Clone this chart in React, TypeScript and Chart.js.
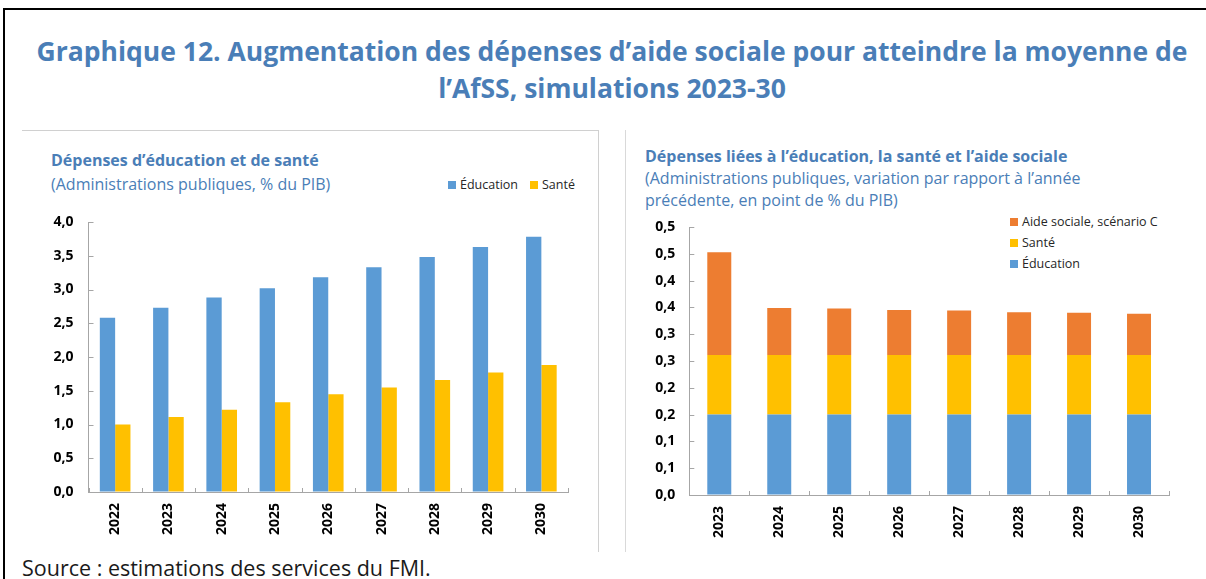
import React, { useEffect, useRef } from 'react';
import { Chart, registerables } from 'chart.js';

Chart.register(...registerables);

// ---------- data ----------
const levelYears = ['2022', '2023', '2024', '2025', '2026', '2027', '2028', '2029', '2030'];
const educationLevel = [2.58, 2.73, 2.88, 3.02, 3.18, 3.33, 3.48, 3.63, 3.78];
const santeLevel = [1.0, 1.11, 1.22, 1.33, 1.45, 1.55, 1.66, 1.77, 1.88];
const levelYLabels = ['0,0', '0,5', '1,0', '1,5', '2,0', '2,5', '3,0', '3,5', '4,0'];

const changeYears = ['2023', '2024', '2025', '2026', '2027', '2028', '2029', '2030'];
const educationChange = [0.15, 0.15, 0.15, 0.15, 0.15, 0.15, 0.15, 0.15];
const santeChange = [0.111, 0.111, 0.111, 0.111, 0.111, 0.111, 0.111, 0.111];
const aideChange = [0.192, 0.088, 0.087, 0.084, 0.083, 0.08, 0.079, 0.077];
const changeYLabels = ['0,0', '0,1', '0,1', '0,2', '0,2', '0,3', '0,3', '0,4', '0,4', '0,5', '0,5'];

const seriesNames = { education: 'Éducation', sante: 'Santé', aide: 'Aide sociale, scénario C' };

// ---------- styles ----------
const FONT = '"Open Sans", "Noto Sans", sans-serif';
const TITLE_BLUE = '#4A7EB7';
const EDU_COLOR = '#5B9BD5';
const SANTE_COLOR = '#FFC000';
const AIDE_COLOR = '#ED7D31';
const AXIS_COLOR = '#A6A6A6';

const innerTicks = {
  id: 'innerTicks',
  afterDraw(chart: any) {
    const { ctx, chartArea, scales } = chart;
    const { left, right, bottom } = chartArea;
    const x = scales.x;
    const y = scales.y;
    ctx.save();
    ctx.strokeStyle = AXIS_COLOR;
    ctx.lineWidth = 1;
    ctx.beginPath();
    y.ticks.forEach((_: any, i: number) => {
      const py = Math.round(y.getPixelForTick(i)) + 0.5;
      ctx.moveTo(left, py);
      ctx.lineTo(left + 5, py);
    });
    const n = x.ticks.length;
    for (let i = 0; i <= n; i++) {
      const px = Math.round(left + ((right - left) * i) / n) + 0.5;
      ctx.moveTo(px, bottom);
      ctx.lineTo(px, bottom - 4);
    }
    ctx.stroke();
    ctx.restore();
  },
};

function baseScales(xHeight: number, yWidth: number) {
  const tickFont = { family: FONT, size: 14, weight: 'bold' as const };
  return {
    x: {
      grid: { display: true, drawOnChartArea: false, drawTicks: false },
      border: { display: true, color: AXIS_COLOR, width: 1 },
      ticks: {
        font: tickFont,
        color: '#000',
        minRotation: 90,
        maxRotation: 90,
        autoSkip: false,
        padding: 11,
      },
      afterFit(s: any) {
        s.height = xHeight;
      },
    },
    y: {
      grid: { display: true, drawOnChartArea: false, drawTicks: false },
      border: { display: true, color: AXIS_COLOR, width: 1 },
      ticks: { font: tickFont, color: '#000', padding: 15, autoSkip: false },
      afterFit(s: any) {
        s.width = yWidth;
      },
    },
  };
}

function LevelChart() {
  const ref = useRef<HTMLCanvasElement>(null);
  useEffect(() => {
    const scales: any = baseScales(58, 66.5);
    scales.y.min = 0;
    scales.y.max = 4;
    scales.y.ticks.stepSize = 0.5;
    scales.y.ticks.callback = (_v: any, i: number) => levelYLabels[i];
    const chart = new Chart(ref.current!, {
      type: 'bar',
      data: {
        labels: levelYears,
        datasets: [
          { label: seriesNames.education, data: educationLevel, backgroundColor: EDU_COLOR, borderWidth: 0, categoryPercentage: 0.575, barPercentage: 1.0 },
          { label: seriesNames.sante, data: santeLevel, backgroundColor: SANTE_COLOR, borderWidth: 0, categoryPercentage: 0.575, barPercentage: 1.0 },
        ],
      },
      options: {
        responsive: false,
        animation: false,
        layout: { padding: { top: 26, right: 30, left: 0, bottom: 0 } },
        plugins: { legend: { display: false }, tooltip: { enabled: false } },
        scales,
      },
      plugins: [innerTicks],
    });
    return () => chart.destroy();
  }, []);
  return <canvas ref={ref} width={576} height={354} style={{ position: 'absolute', left: 22, top: 196, width: 576, height: 354 }} />;
}

function ChangeChart() {
  const ref = useRef<HTMLCanvasElement>(null);
  useEffect(() => {
    const scales: any = baseScales(55, 62.3);
    scales.x.stacked = true;
    scales.y.stacked = true;
    scales.y.min = 0;
    scales.y.max = 0.5;
    scales.y.ticks.stepSize = 0.05;
    scales.y.ticks.padding = 14;
    scales.y.ticks.callback = (_v: any, i: number) => changeYLabels[i];
    const common = { borderWidth: 0, categoryPercentage: 0.4, barPercentage: 1.0 };
    const chart = new Chart(ref.current!, {
      type: 'bar',
      data: {
        labels: changeYears,
        datasets: [
          { label: seriesNames.education, data: educationChange, backgroundColor: EDU_COLOR, ...common },
          { label: seriesNames.sante, data: santeChange, backgroundColor: SANTE_COLOR, ...common },
          { label: seriesNames.aide, data: aideChange, backgroundColor: AIDE_COLOR, ...common },
        ],
      },
      options: {
        responsive: false,
        animation: false,
        layout: { padding: { top: 31, right: 28, left: 0, bottom: 0 } },
        plugins: { legend: { display: false }, tooltip: { enabled: false } },
        scales,
      },
      plugins: [innerTicks],
    });
    return () => chart.destroy();
  }, []);
  return <canvas ref={ref} width={570} height={354} style={{ position: 'absolute', left: 627, top: 196, width: 570, height: 354 }} />;
}

function LegendItem({ color, label, style }: { color: string; label: string; style: React.CSSProperties }) {
  return (
    <div style={{ position: 'absolute', display: 'flex', alignItems: 'center', fontFamily: FONT, fontSize: 12.5, color: '#262626', whiteSpace: 'nowrap', lineHeight: '16px', ...style }}>
      <span style={{ display: 'inline-block', width: 8, height: 8, background: color, marginRight: 4 }} />
      {label}
    </div>
  );
}

const abs = (s: React.CSSProperties): React.CSSProperties => ({ position: 'absolute', whiteSpace: 'nowrap', ...s });

export default function App() {
  return (
    <div style={{ position: 'fixed', left: 0, top: 0, width: 1206, height: 579, overflow: 'hidden', background: '#fff' }}>
      {/* outer frame */}
      <div style={abs({ left: 3, top: 8, width: 1203, height: 2, background: '#000' })} />
      <div style={abs({ left: 3, top: 8, width: 2, height: 571, background: '#000' })} />

      {/* main title */}
      <div
        style={abs({
          left: 18,
          top: 33,
          width: 1188,
          textAlign: 'center',
          fontFamily: FONT,
          fontWeight: 700,
          fontSize: 26.5,
          lineHeight: '37px',
          color: TITLE_BLUE,
          whiteSpace: 'normal',
        })}
      >
        Graphique 12. Augmentation des dépenses d’aide sociale pour atteindre la moyenne de
        <br />
        l’AfSS, simulations 2023-30
      </div>

      {/* panel frames */}
      <div style={abs({ left: 22, top: 130, width: 577, height: 1, background: '#D0D0D0' })} />
      <div style={abs({ left: 598, top: 130, width: 1, height: 422, background: '#D0D0D0' })} />
      <div style={abs({ left: 625, top: 130, width: 1, height: 422, background: '#D9D9D9' })} />

      {/* left subtitles */}
      <div style={abs({ left: 51, top: 149, fontFamily: FONT, fontWeight: 700, fontSize: 16, lineHeight: '22px', color: TITLE_BLUE })}>
        Dépenses d’éducation et de santé
      </div>
      <div style={abs({ left: 51, top: 173, fontFamily: FONT, fontSize: 16, lineHeight: '22px', color: TITLE_BLUE })}>
        (Administrations publiques, % du PIB)
      </div>
      <LegendItem color={EDU_COLOR} label={seriesNames.education} style={{ left: 448, top: 177 }} />
      <LegendItem color={SANTE_COLOR} label={seriesNames.sante} style={{ left: 530, top: 177 }} />

      {/* right subtitles */}
      <div style={abs({ left: 645, top: 145, fontFamily: FONT, fontWeight: 700, fontSize: 16, lineHeight: '22px', color: TITLE_BLUE })}>
        Dépenses liées à l’éducation, la santé et l’aide sociale
      </div>
      <div style={abs({ left: 645, top: 167, fontFamily: FONT, fontSize: 16, lineHeight: '22px', color: TITLE_BLUE })}>
        (Administrations publiques, variation par rapport à l’année
        <br />
        précédente, en point de % du PIB)
      </div>
      <LegendItem color={AIDE_COLOR} label={seriesNames.aide} style={{ left: 1010, top: 214 }} />
      <LegendItem color={SANTE_COLOR} label={seriesNames.sante} style={{ left: 1010, top: 235 }} />
      <LegendItem color={EDU_COLOR} label={seriesNames.education} style={{ left: 1010, top: 256 }} />

      <LevelChart />
      <ChangeChart />

      {/* source */}
      <div style={abs({ left: 22, top: 557, fontFamily: FONT, fontSize: 21.5, lineHeight: '22px', color: '#1a1a1a' })}>
        Source : estimations des services du FMI.
      </div>
    </div>
  );
}
